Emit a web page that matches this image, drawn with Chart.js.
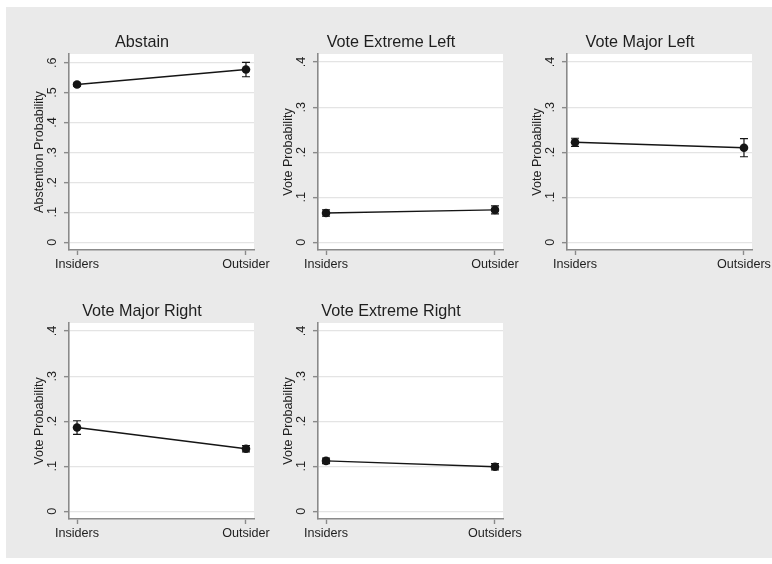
<!DOCTYPE html>
<html>
<head>
<meta charset="utf-8">
<script src="https://cdn.jsdelivr.net/npm/chart.js@4/dist/chart.umd.min.js"></script>
<style>
  html, body { margin: 0; padding: 0; background: #ffffff; }
  #wrap { position: relative; width: 772px; height: 564px; overflow: hidden; }
  #bg { position: absolute; left: 6px; top: 7px; width: 766px; height: 551px; background: #eaeaea; }
  #wrap canvas { position: absolute; }
</style>
</head>
<body>
<div id="wrap"><div id="bg"></div></div>
<script>
// ---- data ----
const panelTitles = ['Abstain', 'Vote Extreme Left', 'Vote Major Left', 'Vote Major Right', 'Vote Extreme Right'];
const yAxisTitles = ['Abstention Probability', 'Vote Probability', 'Vote Probability', 'Vote Probability', 'Vote Probability'];
const groupLabels = [
  ['Insiders', 'Outsider'],
  ['Insiders', 'Outsider'],
  ['Insiders', 'Outsiders'],
  ['Insiders', 'Outsider'],
  ['Insiders', 'Outsiders']
];
// predicted probabilities: [Insiders, Outsiders]
const abstainProb      = [0.527, 0.577];
const extremeLeftProb  = [0.065, 0.072];
const majorLeftProb    = [0.222, 0.210];
const majorRightProb   = [0.186, 0.139];
const extremeRightProb = [0.112, 0.099];
// confidence interval bounds
const abstainLo      = [0.522, 0.553];
const abstainHi      = [0.532, 0.601];
const extremeLeftLo  = [0.058, 0.063];
const extremeLeftHi  = [0.072, 0.081];
const majorLeftLo    = [0.213, 0.190];
const majorLeftHi    = [0.231, 0.230];
const majorRightLo   = [0.171, 0.132];
const majorRightHi   = [0.201, 0.146];
const extremeRightLo = [0.106, 0.092];
const extremeRightHi = [0.118, 0.106];
// y ticks
const abstainTicks = [0, 0.1, 0.2, 0.3, 0.4, 0.5, 0.6];
const abstainTickLabels = ['0', '.1', '.2', '.3', '.4', '.5', '.6'];
const voteTicks = [0, 0.1, 0.2, 0.3, 0.4];
const voteTickLabels = ['0', '.1', '.2', '.3', '.4'];

const panelEstimates = [abstainProb, extremeLeftProb, majorLeftProb, majorRightProb, extremeRightProb];
const panelLower = [abstainLo, extremeLeftLo, majorLeftLo, majorRightLo, extremeRightLo];
const panelUpper = [abstainHi, extremeLeftHi, majorLeftHi, majorRightHi, extremeRightHi];

// ---- layout ----
const PLOT_W = 185, PLOT_H = 196;
const PAD = { left: 69, top: 54, right: 20, bottom: 32 };
const TICK_LEN = 5;
const plotOrigins = [
  { left: 69, top: 54 }, { left: 318, top: 54 }, { left: 567, top: 54 },
  { left: 69, top: 323 }, { left: 318, top: 323 }
];
const FONT = '"Liberation Sans", Arial, Helvetica, sans-serif';
const AXIS_GRAY = '#8a8a8a';
const TEXT_COLOR = '#1e1e1e';

const panelDecor = {
  id: 'panelDecor',
  beforeDraw(chart) {
    const a = chart.chartArea, ctx = chart.ctx;
    ctx.save();
    ctx.fillStyle = '#ffffff';
    ctx.fillRect(a.left, a.top, a.right - a.left, a.bottom - a.top);
    ctx.restore();
  },
  afterDatasetsDraw(chart, args, opts) {
    const ctx = chart.ctx, xs = chart.scales.x, ys = chart.scales.y;
    ctx.save();
    ctx.strokeStyle = '#151515';
    ctx.lineWidth = 1.2;
    opts.lower.forEach((lo, i) => {
      const x = xs.getPixelForValue(i);
      const y1 = ys.getPixelForValue(lo), y2 = ys.getPixelForValue(opts.upper[i]);
      ctx.beginPath();
      ctx.moveTo(x, y1); ctx.lineTo(x, y2);
      ctx.moveTo(x - 4, y1); ctx.lineTo(x + 4, y1);
      ctx.moveTo(x - 4, y2); ctx.lineTo(x + 4, y2);
      ctx.stroke();
    });
    ctx.restore();
  },
  afterDraw(chart, args, opts) {
    const a = chart.chartArea, ctx = chart.ctx, xs = chart.scales.x, ys = chart.scales.y;
    ctx.save();
    ctx.fillStyle = TEXT_COLOR;
    // panel title
    ctx.font = '16.2px ' + FONT;
    ctx.textAlign = 'center';
    ctx.textBaseline = 'middle';
    ctx.fillText(opts.title, a.left + 73, a.top - 11);
    // x category labels
    ctx.font = '12.6px ' + FONT;
    opts.groups.forEach((g, i) => {
      ctx.fillText(g, xs.getPixelForValue(i), a.bottom + 15);
    });
    // y tick labels, rotated
    opts.ticks.forEach((v, i) => {
      ctx.save();
      ctx.translate(a.left - 16, ys.getPixelForValue(v));
      ctx.rotate(-Math.PI / 2);
      ctx.fillText(opts.tickLabels[i], 0, 0);
      ctx.restore();
    });
    // y axis title
    ctx.save();
    ctx.translate(a.left - 29.5, (a.top + a.bottom) / 2);
    ctx.rotate(-Math.PI / 2);
    ctx.fillText(opts.yTitle, 0, 0);
    ctx.restore();
    ctx.restore();
  }
};

const wrap = document.getElementById('wrap');
panelTitles.forEach((title, p) => {
  const isAbstain = p === 0;
  const ticks = isAbstain ? abstainTicks : voteTicks;
  const tickLabels = isAbstain ? abstainTickLabels : voteTickLabels;
  const canvas = document.createElement('canvas');
  const w = PAD.left + PLOT_W + PAD.right, h = PAD.top + PLOT_H + PAD.bottom;
  canvas.width = w; canvas.height = h;
  canvas.style.width = w + 'px'; canvas.style.height = h + 'px';
  canvas.style.left = (plotOrigins[p].left - PAD.left) + 'px';
  canvas.style.top = (plotOrigins[p].top - PAD.top) + 'px';
  wrap.appendChild(canvas);

  new Chart(canvas, {
    type: 'line',
    data: {
      datasets: [{
        data: panelEstimates[p].map((v, i) => ({ x: i, y: v })),
        borderColor: '#151515',
        borderWidth: 1.4,
        backgroundColor: '#151515',
        pointBackgroundColor: '#151515',
        pointBorderColor: '#151515',
        pointRadius: 4.3,
        pointBorderWidth: 0,
        tension: 0,
        fill: false
      }]
    },
    options: {
      responsive: false,
      animation: false,
      events: [],
      devicePixelRatio: 1,
      layout: { padding: { left: PAD.left - TICK_LEN, top: PAD.top, right: PAD.right, bottom: PAD.bottom - TICK_LEN } },
      plugins: {
        legend: { display: false },
        tooltip: { enabled: false },
        panelDecor: {
          title: title,
          yTitle: yAxisTitles[p],
          groups: groupLabels[p],
          ticks: ticks,
          tickLabels: tickLabels,
          lower: panelLower[p],
          upper: panelUpper[p]
        }
      },
      scales: {
        x: {
          type: 'linear',
          min: -0.0475,
          max: 1.0475,
          afterBuildTicks: s => { s.ticks = groupLabels[p].map((g, i) => ({ value: i })); },
          afterFit: s => { s.height = TICK_LEN; },
          ticks: { display: false },
          grid: { drawOnChartArea: false, drawTicks: true, tickLength: TICK_LEN, tickColor: AXIS_GRAY, tickWidth: 1.4 },
          border: { display: true, color: AXIS_GRAY, width: 1.6 }
        },
        y: {
          type: 'linear',
          min: isAbstain ? -0.0257 : -0.017,
          max: isAbstain ? 0.629 : 0.418,
          afterBuildTicks: s => { s.ticks = ticks.map(v => ({ value: v })); },
          afterFit: s => { s.width = TICK_LEN; },
          ticks: { display: false },
          grid: { color: '#e4e4e4', lineWidth: 1.3, drawTicks: true, tickLength: TICK_LEN, tickColor: AXIS_GRAY, tickWidth: 1.4 },
          border: { display: true, color: AXIS_GRAY, width: 1.6 }
        }
      }
    },
    plugins: [panelDecor]
  });
});
</script>
</body>
</html>
